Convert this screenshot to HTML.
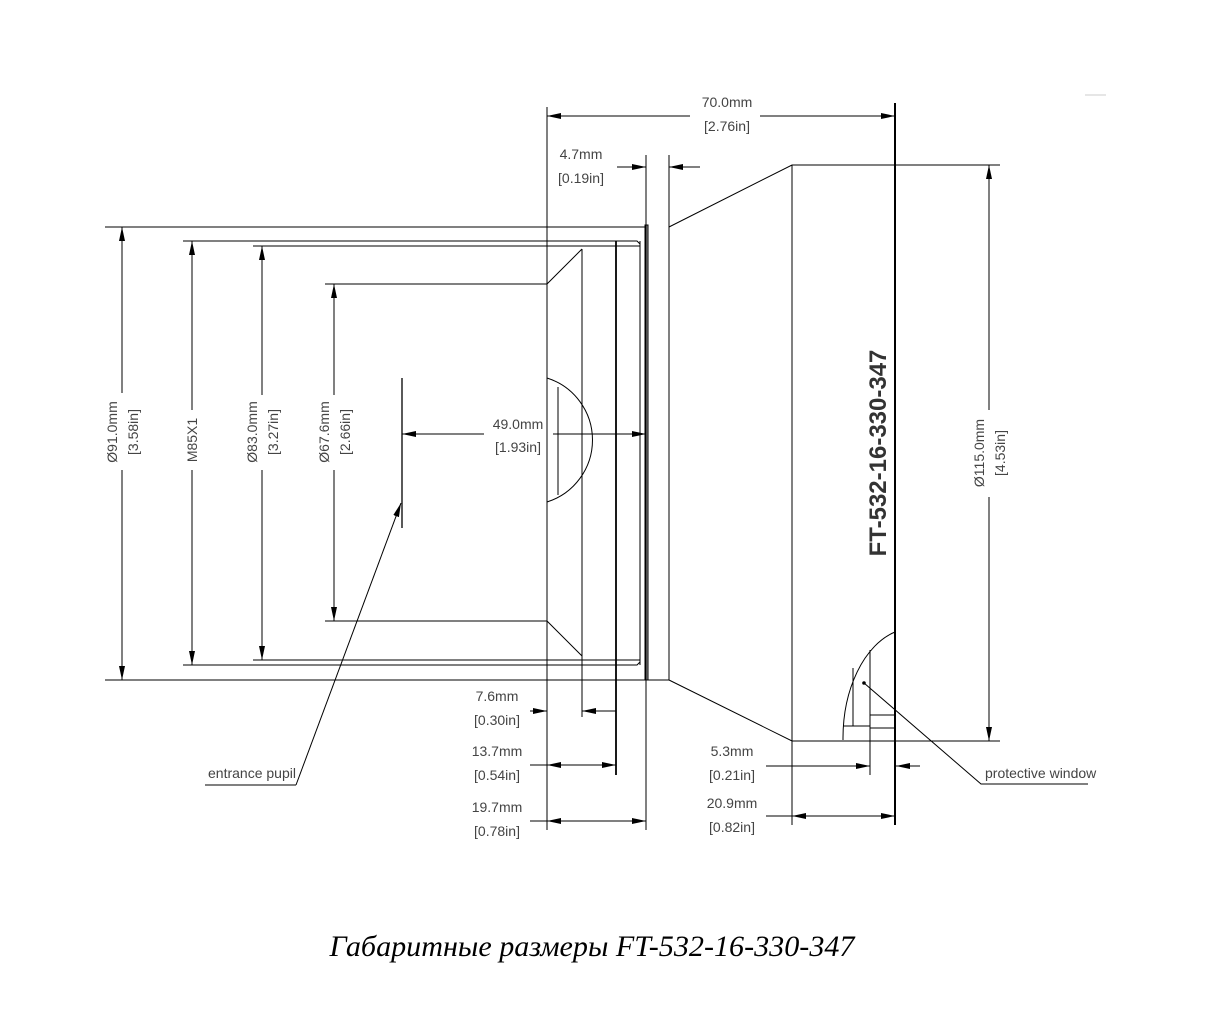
<!DOCTYPE html>
<html><head><meta charset="utf-8"><style>
html,body{margin:0;padding:0;background:#fff;}
svg{display:block;}
.d{font-family:"Liberation Sans Narrow","Liberation Sans",sans-serif;font-size:14px;fill:#444;}
</style></head><body>
<svg width="1210" height="1034" viewBox="0 0 1210 1034" xmlns="http://www.w3.org/2000/svg">
<defs>
<marker id="a" viewBox="0 0 14 6" refX="14" refY="3" markerWidth="14" markerHeight="6" markerUnits="userSpaceOnUse" orient="auto-start-reverse"><path d="M0,0 L14,3 L0,6 z" fill="#000"/></marker>
</defs>
<g stroke="#000" stroke-width="1" fill="none">
<line x1="547" y1="107" x2="547" y2="830"/>
<line x1="895" y1="103" x2="895" y2="825" stroke-width="2"/>
<line x1="105" y1="227" x2="646" y2="227"/>
<line x1="105" y1="680" x2="646" y2="680"/>
<line x1="183" y1="241" x2="616" y2="241"/>
<line x1="183" y1="665" x2="616" y2="665"/>
<line x1="253" y1="246" x2="640" y2="246"/>
<line x1="253" y1="660" x2="640" y2="660"/>
<line x1="325" y1="284" x2="547" y2="284"/>
<line x1="325" y1="621" x2="547" y2="621"/>
<path d="M547,284 L582,249 M547,621 L582,656"/>
<line x1="582" y1="249" x2="582" y2="717"/>
<line x1="558" y1="387" x2="558" y2="495"/>
<line x1="616" y1="241" x2="616" y2="775" stroke-width="1.8"/>
<line x1="640" y1="241" x2="640" y2="665"/>
<path d="M616,241 L637,241 L640,244 M616,665 L637,665 L640,662"/>
<rect x="645" y="225" width="3" height="455" fill="#999"/>
<line x1="646" y1="155" x2="646" y2="830"/>
<line x1="669" y1="155" x2="669" y2="680"/>
<line x1="646" y1="680" x2="669" y2="680"/>
<path d="M669,227 L792,165 L895,165 M669,680 L792,741 L895,741"/>
<line x1="792" y1="165" x2="792" y2="825"/>
<path d="M547,378 A65,65 0 0 1 547,502"/>
<path d="M895,632 A70,110 0 0 0 843,740"/>
<line x1="853" y1="668" x2="853" y2="726"/>
<line x1="870" y1="650" x2="870" y2="775"/>
<path d="M843,726 L870,726 M870,715 L895,715 M870,728 L895,728"/>
<line x1="122" y1="227" x2="122" y2="393" marker-start="url(#a)"/>
<line x1="122" y1="470" x2="122" y2="680" marker-end="url(#a)"/>
<line x1="192" y1="241" x2="192" y2="410" marker-start="url(#a)"/>
<line x1="192" y1="470" x2="192" y2="665" marker-end="url(#a)"/>
<line x1="262" y1="246" x2="262" y2="395" marker-start="url(#a)"/>
<line x1="262" y1="470" x2="262" y2="660" marker-end="url(#a)"/>
<line x1="334" y1="284" x2="334" y2="395" marker-start="url(#a)"/>
<line x1="334" y1="470" x2="334" y2="621" marker-end="url(#a)"/>
<line x1="402" y1="378" x2="402" y2="528" stroke-width="1.3"/>
<line x1="484" y1="434" x2="402" y2="434" marker-end="url(#a)"/>
<line x1="553" y1="434" x2="646" y2="434" marker-end="url(#a)"/>
<path d="M296,785 L205,785"/>
<line x1="296" y1="785" x2="401" y2="503" marker-end="url(#a)"/>
<line x1="690" y1="116" x2="547" y2="116" marker-end="url(#a)"/>
<line x1="760" y1="116" x2="895" y2="116" marker-end="url(#a)"/>
<line x1="617" y1="167" x2="646" y2="167" marker-end="url(#a)"/>
<line x1="700" y1="167" x2="669" y2="167" marker-end="url(#a)"/>
<line x1="895" y1="165" x2="1000" y2="165"/>
<line x1="895" y1="741" x2="1000" y2="741"/>
<line x1="989" y1="410" x2="989" y2="165" marker-end="url(#a)"/>
<line x1="989" y1="497" x2="989" y2="741" marker-end="url(#a)"/>
<line x1="530" y1="711" x2="547" y2="711" marker-end="url(#a)"/>
<line x1="616" y1="711" x2="582" y2="711" marker-end="url(#a)"/>
<line x1="530" y1="765" x2="547" y2="765"/>
<line x1="582" y1="765" x2="547" y2="765" marker-end="url(#a)"/>
<line x1="582" y1="765" x2="616" y2="765" marker-end="url(#a)"/>
<line x1="530" y1="821" x2="547" y2="821"/>
<line x1="597" y1="821" x2="547" y2="821" marker-end="url(#a)"/>
<line x1="597" y1="821" x2="646" y2="821" marker-end="url(#a)"/>
<line x1="766" y1="766" x2="870" y2="766" marker-end="url(#a)"/>
<line x1="920" y1="766" x2="896" y2="766" marker-end="url(#a)"/>
<line x1="766" y1="816" x2="792" y2="816"/>
<line x1="843" y1="816" x2="792" y2="816" marker-end="url(#a)"/>
<line x1="843" y1="816" x2="895" y2="816" marker-end="url(#a)"/>
<circle cx="864" cy="683" r="1.3" fill="#000"/>
<path d="M864,683 L981,784 L1088,784"/>
<line x1="1085" y1="95" x2="1106" y2="95" stroke="#ccc"/>
</g>
<g class="d">
<text x="727" y="107" text-anchor="middle">70.0mm</text>
<text x="727" y="131" text-anchor="middle">[2.76in]</text>
<text x="581" y="159" text-anchor="middle">4.7mm</text>
<text x="581" y="183" text-anchor="middle">[0.19in]</text>
<text x="518" y="429" text-anchor="middle">49.0mm</text>
<text x="518" y="452" text-anchor="middle">[1.93in]</text>
<text x="497" y="701" text-anchor="middle">7.6mm</text>
<text x="497" y="725" text-anchor="middle">[0.30in]</text>
<text x="497" y="756" text-anchor="middle">13.7mm</text>
<text x="497" y="780" text-anchor="middle">[0.54in]</text>
<text x="497" y="812" text-anchor="middle">19.7mm</text>
<text x="497" y="836" text-anchor="middle">[0.78in]</text>
<text x="732" y="756" text-anchor="middle">5.3mm</text>
<text x="732" y="780" text-anchor="middle">[0.21in]</text>
<text x="732" y="808" text-anchor="middle">20.9mm</text>
<text x="732" y="832" text-anchor="middle">[0.82in]</text>
<text x="208" y="778">entrance pupil</text>
<text x="985" y="778">protective window</text>
<text transform="translate(117,432) rotate(-90)" text-anchor="middle">Ø91.0mm</text>
<text transform="translate(138,432) rotate(-90)" text-anchor="middle">[3.58in]</text>
<text transform="translate(197,440) rotate(-90)" text-anchor="middle">M85X1</text>
<text transform="translate(257,432) rotate(-90)" text-anchor="middle">Ø83.0mm</text>
<text transform="translate(278,432) rotate(-90)" text-anchor="middle">[3.27in]</text>
<text transform="translate(329,432) rotate(-90)" text-anchor="middle">Ø67.6mm</text>
<text transform="translate(350,432) rotate(-90)" text-anchor="middle">[2.66in]</text>
<text transform="translate(984,453) rotate(-90)" text-anchor="middle">Ø115.0mm</text>
<text transform="translate(1005,453) rotate(-90)" text-anchor="middle">[4.53in]</text>
</g>
<text transform="translate(886,453) rotate(-90)" text-anchor="middle" font-family="'Liberation Sans',sans-serif" font-size="24" font-weight="bold" fill="#333">FT-532-16-330-347</text>
<text x="592" y="956" text-anchor="middle" font-family="'Liberation Serif','Noto Serif CJK SC',serif" font-size="30" font-style="italic" fill="#000" textLength="525" lengthAdjust="spacingAndGlyphs">Габаритные размеры FT-532-16-330-347</text>
</svg>
</body></html>
